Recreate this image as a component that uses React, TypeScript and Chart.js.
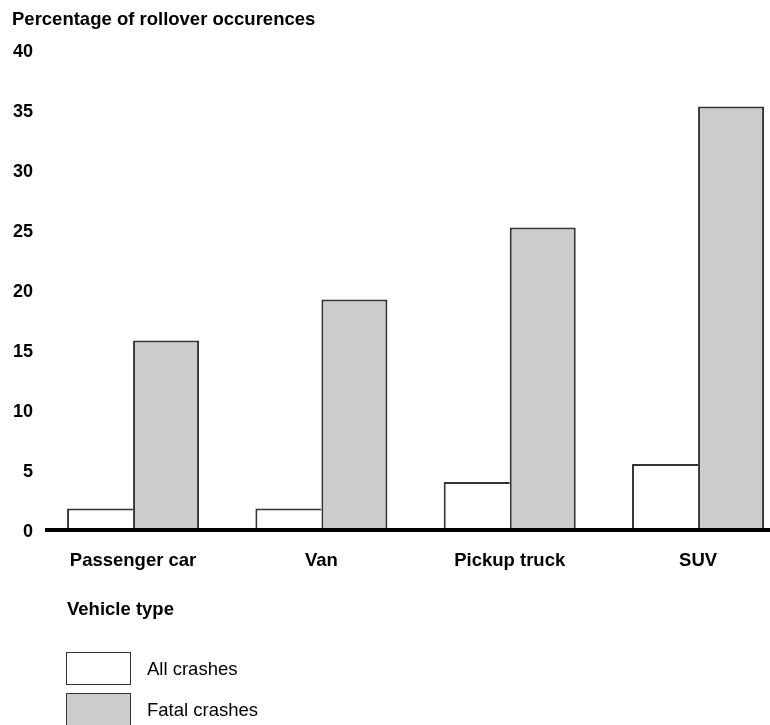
import React, { useEffect, useRef } from 'react';
import { Chart, registerables } from 'chart.js';

Chart.register(...registerables);

// ---- Data ----
const categories = ['Passenger car', 'Van', 'Pickup truck', 'SUV'];
const allCrashes = [1.8, 1.8, 4.0, 5.5];
const fatalCrashes = [15.8, 19.2, 25.2, 35.3];
const seriesNames = ['All crashes', 'Fatal crashes'];
const seriesColors = ['#ffffff', '#cccccc'];
const yMin = 0;
const yMax = 40;
const yStep = 5;
const yTitle = 'Percentage of rollover occurences';
const legendTitle = 'Vehicle type';

const FONT = '"Liberation Sans", Arial, Helvetica, sans-serif';
const EDGE = '#333333';
const FS = 18.5;

export default function App() {
  const canvasRef = useRef<HTMLCanvasElement | null>(null);

  useEffect(() => {
    document.body.style.margin = '0';
    const canvas = canvasRef.current;
    if (!canvas) return;
    Chart.defaults.font.family = FONT;

    const seriesValues = [allCrashes, fatalCrashes];
    const chart = new Chart(canvas, {
      type: 'bar',
      data: {
        datasets: seriesNames.map((name, s) => ({
          label: name,
          data: categories.map((_, i) => ({ x: i, y: seriesValues[s][i] })),
          backgroundColor: seriesColors[s],
          borderColor: EDGE,
          borderWidth:
            s === 0
              ? { top: 2, left: 2, right: 0, bottom: 0 }
              : { top: 2, left: 2, right: 2, bottom: 0 },
          borderSkipped: 'bottom',
          barPercentage: 1,
          categoryPercentage: 0.701,
        })),
      },
      options: {
        animation: false,
        responsive: false,
        devicePixelRatio: 1,
        layout: { padding: { left: 12, right: 0, top: 0, bottom: 0 } },
        plugins: {
          legend: { display: false },
          tooltip: { enabled: false },
          title: {
            display: true,
            text: yTitle,
            align: 'start',
            color: '#000',
            font: { size: FS, weight: 'bold', family: FONT, lineHeight: 1.2 },
            padding: { top: 9, bottom: 18.8 },
          },
        },
        scales: {
          x: {
            type: 'linear',
            min: -0.457,
            max: 3.382,
            offset: false,
            grid: { display: false, drawTicks: false },
            border: { display: true, color: '#000', width: 4, z: 1 },
            ticks: {
              stepSize: 1,
              includeBounds: false,
              autoSkip: false,
              maxRotation: 0,
              minRotation: 0,
              padding: 20,
              color: '#000',
              font: { size: FS, weight: 'bold', family: FONT, lineHeight: 1.2 },
              callback: (v: any) => categories[v as number] ?? '',
            },
            afterFit: (s: any) => {
              s.height = 195;
            },
          },
          y: {
            min: yMin,
            max: yMax,
            grid: { display: false, drawTicks: false },
            border: { display: false },
            ticks: {
              stepSize: yStep,
              padding: 14,
              labelOffset: 2,
              color: '#000',
              font: { size: 18, weight: 'bold', family: FONT },
            },
            afterFit: (s: any) => {
              s.width = 35;
            },
          },
        },
      } as any,
    });
    return () => chart.destroy();
  }, []);

  return (
    <div style={{ position: 'relative', width: 770, height: 725, overflow: 'hidden', background: '#fff' }}>
      <canvas ref={canvasRef} width={770} height={725} style={{ display: 'block', width: 770, height: 725 }} />
      <div
        style={{
          position: 'absolute',
          left: 67,
          top: 597,
          fontFamily: FONT,
          fontSize: FS,
          fontWeight: 'bold',
          lineHeight: '24px',
          color: '#000',
        }}
      >
        {legendTitle}
      </div>
      {seriesNames.map((name, s) => (
        <div
          key={name}
          style={{
            position: 'absolute',
            left: 66,
            top: 652 + s * 41,
            height: 33,
            display: 'flex',
            alignItems: 'center',
            fontFamily: FONT,
            fontSize: FS,
            color: '#000',
          }}
        >
          <div
            style={{
              width: 65,
              height: 33,
              boxSizing: 'border-box',
              border: `1.5px solid ${EDGE}`,
              background: seriesColors[s],
            }}
          />
          <span style={{ marginLeft: 16 }}>{name}</span>
        </div>
      ))}
    </div>
  );
}
